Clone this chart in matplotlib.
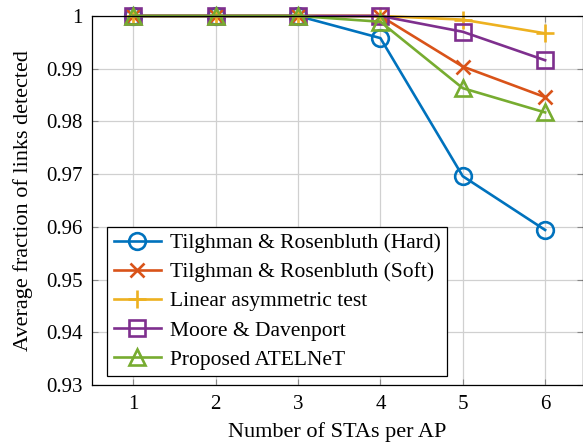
import matplotlib
matplotlib.use('Agg')
import matplotlib.pyplot as plt

plt.rcParams['font.family'] = ['Liberation Serif', 'DejaVu Serif']
plt.rcParams['mathtext.fontset'] = 'stix'

stas = [1, 2, 3, 4, 5, 6]
hard = [1.0, 1.0, 1.0, 0.9958, 0.9696, 0.9594]
soft = [1.0, 1.0, 1.0, 1.0, 0.9904, 0.9846]
linear = [1.0, 1.0, 1.0, 1.0, 0.9993, 0.9967]
moore = [1.0, 1.0, 1.0, 1.0, 0.9970, 0.9916]
proposed = [1.0, 1.0, 1.0, 0.9989, 0.9863, 0.9817]

labels = ['Tilghman & Rosenbluth (Hard)', 'Tilghman & Rosenbluth (Soft)',
          'Linear asymmetric test', 'Moore & Davenport', 'Proposed ATELNeT']
yticks = [0.93, 0.94, 0.95, 0.96, 0.97, 0.98, 0.99, 1]

fig = plt.figure(figsize=(5.83, 4.43), dpi=100)
ax = fig.add_axes([0.158, 0.131, 0.842, 0.833])

series = [hard, soft, linear, moore, proposed]
colors = ['#0072BD', '#D95319', '#EDB120', '#7E2F8E', '#77AC30']
markers = ['o', 'x', '+', 's', '^']
sizes = [12, 10, 13, 11, 11]
for vals, lab, c, m, s in zip(series, labels, colors, markers, sizes):
    ax.plot(stas, vals, color=c, marker=m, markersize=s, markerfacecolor='none',
            markeredgewidth=1.9, linewidth=1.9, label=lab, clip_on=False)

ax.set_xlim(0.5, 6.46)
ax.set_ylim(0.93, 1.0)
ax.set_xticks(stas)
ax.set_yticks(yticks)
ax.set_yticklabels(['0.93', '0.94', '0.95', '0.96', '0.97', '0.98', '0.99', '1'])
ax.grid(True, color='#d0d0d0', linewidth=0.9)
ax.set_axisbelow(True)
ax.tick_params(direction='in', top=True, right=True, labelsize=15, length=4,
               pad=7, color='#888888')
for sp in ax.spines.values():
    sp.set_linewidth(0.9)

ax.set_xlabel('Number of STAs per AP', fontsize=16, labelpad=6)
ax.set_ylabel('Average fraction of links detected', fontsize=16, labelpad=9)

leg = ax.legend(loc='lower left', bbox_to_anchor=(0.031, 0.024), fontsize=15.5,
                fancybox=False, edgecolor='black', framealpha=1, handlelength=2.2,
                borderpad=0.3, labelspacing=0.42, handletextpad=0.4,
                borderaxespad=0)
leg.get_frame().set_linewidth(0.9)

fig.savefig('out.png', dpi=100)
